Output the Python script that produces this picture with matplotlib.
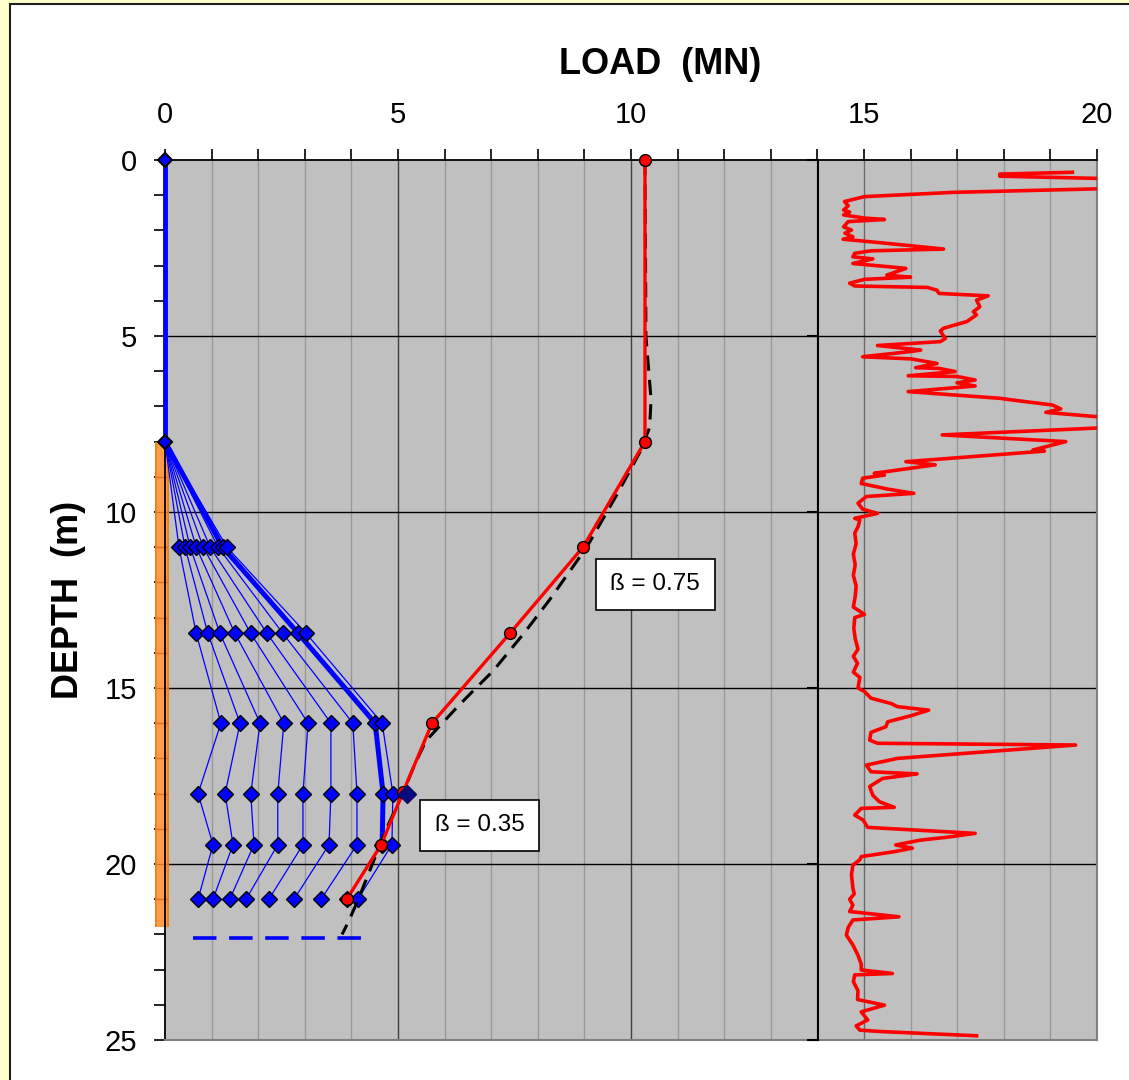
import matplotlib
matplotlib.use("Agg")
import matplotlib.pyplot as plt
from matplotlib.patches import Rectangle

plt.rcParams['font.family'] = ['Liberation Sans', 'DejaVu Sans']

# ---- data -------------------------------------------------------------
# strain-gauge depths (m); 8 m is top of embedded pile
gauge_depth = [8, 11, 13.45, 16, 18, 19.45, 21]

# load (MN) at each gauge depth for the successive load steps
load_11 = [0.30, 0.43, 0.54, 0.67, 0.82, 0.97, 1.14, 1.24, 1.33]
load_1345 = [0.67, 0.92, 1.18, 1.50, 1.84, 2.19, 2.53, 2.86, 3.03]
load_16 = [1.20, 1.61, 2.04, 2.55, 3.07, 3.56, 4.03, 4.51, 4.66]
load_18 = [0.71, 1.29, 1.84, 2.42, 2.96, 3.56, 4.12, 4.68, 4.89]
load_1945 = [1.03, 1.46, 1.91, 2.42, 2.96, 3.52, 4.12, 4.66, 4.87]
load_21 = [0.71, 1.03, 1.39, 1.74, 2.23, 2.77, 3.35, 3.90, 4.14]
thick_step = 7  # load step drawn heavy

# free length above embedment
free_depth = [0, 8]
free_load = [0, 0]

# extra measured point
extra_load = [5.19]
extra_depth = [18]

# red distribution (measured at max load)
red_depth = [0, 8, 11, 13.45, 16, 17.95, 19.45, 21]
red_load = [10.3, 10.3, 8.97, 7.40, 5.73, 5.11, 4.64, 3.90]

# fitted (effective stress) curve
fit_depth = [0, 5, 6.8, 7.6, 8.3, 9.5, 11, 12.5, 13.45, 14.5, 15.5, 16, 16.5,
             17.2, 18, 19, 20, 21, 21.6, 22.0]
fit_load = [10.3, 10.32, 10.43, 10.4, 10.19, 9.7, 9.05, 8.25, 7.7, 7.05, 6.3,
            5.95, 5.6, 5.35, 5.1, 4.75, 4.45, 4.15, 3.95, 3.8]

# pile toe marker
toe_depth = 22.1
toe_load = [0.6, 4.2]
pile_top, pile_toe = 8.0, 21.8

# CPT trace (plotted on the 14-20 strip)
cpt_depth = [0.35, 0.40, 0.46, 0.54, 0.80, 0.92, 1.04, 1.18, 1.30, 1.42, 1.48,
             1.56, 1.65, 1.69, 1.75, 1.90, 1.99, 2.08, 2.18, 2.25, 2.37, 2.53,
             2.58, 2.65, 2.75, 2.81, 2.94, 3.03, 3.08, 3.27, 3.33, 3.39, 3.50,
             3.58, 3.62, 3.70, 3.79, 3.86, 3.98, 4.17, 4.31, 4.40, 4.59, 4.78,
             4.86, 5.07, 5.16, 5.27, 5.40, 5.44, 5.59, 5.65, 5.78, 5.90, 5.92,
             6.01, 6.13, 6.15, 6.25, 6.33, 6.42, 6.58, 6.77, 6.82, 6.96, 7.07,
             7.17, 7.36, 7.58, 7.81, 8.00, 8.24, 8.27, 8.57, 8.66, 8.90, 8.95,
             9.04, 9.19, 9.35, 9.47, 9.56, 9.75, 9.92, 10.04, 10.18, 10.23,
             10.42, 10.6, 10.9, 11.2, 11.5, 11.8, 12.1, 12.4, 12.7, 12.91, 13.0,
             13.3, 13.6, 13.9, 14.1, 14.3, 14.55, 14.7, 15.0, 15.1, 15.29,
             15.44, 15.53, 15.63, 15.79, 15.96, 16.10, 16.26, 16.48, 16.57,
             16.62, 17.0, 17.19, 17.38, 17.44, 17.57, 17.80, 18.05, 18.23,
             18.39, 18.42, 18.61, 18.75, 18.96, 19.13, 19.24, 19.32, 19.46,
             19.55, 19.65, 19.79, 19.88, 20.03, 20.3, 20.69, 20.85, 21.0,
             21.17, 21.35, 21.50, 21.59, 21.8, 22.02, 22.3, 22.59, 22.85,
             23.01, 23.11, 23.15, 23.34, 23.6, 23.85, 24.01, 24.2, 24.43, 24.6,
             24.72, 24.76, 24.88]
cpt_value = [19.47, 17.91, 17.91, 20.6, 20.6, 16.9, 15.0, 14.57, 14.65, 14.55,
             14.68, 14.55, 15.0, 15.43, 14.65, 14.55, 14.72, 14.58, 14.75,
             14.54, 15.5, 16.70, 15.14, 14.79, 14.75, 15.18, 14.75, 15.5,
             15.89, 15.48, 15.99, 15.0, 14.68, 14.79, 16.35, 16.56, 16.60,
             17.66, 17.41, 17.48, 17.34, 17.41, 17.2, 16.70, 16.63, 16.74,
             16.63, 15.28, 16.21, 16.0, 14.96, 16.0, 16.56, 16.10, 16.60,
             16.95, 15.94, 16.99, 17.38, 16.99, 17.38, 15.94, 17.91, 18.19,
             19.04, 19.22, 18.90, 20.6, 20.6, 16.67, 19.33, 18.62, 18.87,
             15.89, 16.52, 15.21, 15.43, 14.96, 14.93, 15.5, 16.06, 15.04,
             14.86, 14.96, 15.28, 14.79, 14.90, 14.86, 14.79, 14.82, 14.76,
             14.80, 14.76, 14.82, 14.80, 14.76, 15.0, 14.79, 14.77, 14.80,
             14.86, 14.76, 14.85, 14.76, 14.9, 14.86, 15.0, 15.14, 15.57,
             15.71, 16.38, 15.99, 15.5, 15.46, 15.14, 15.11, 15.28, 19.54,
             15.71, 15.04, 15.14, 16.13, 15.39, 15.11, 15.18, 15.32, 15.64,
             14.93, 14.79, 14.97, 15.07, 17.38, 16.77, 16.21, 15.67, 16.03,
             15.64, 14.93, 14.90, 14.75, 14.72, 14.75, 14.78, 14.68, 14.75,
             14.68, 15.74, 14.75, 14.65, 14.61, 14.75, 14.86, 14.93, 14.93,
             15.60, 14.79, 14.76, 14.86, 14.85, 15.43, 14.93, 15.07, 14.82,
             14.9, 15.35, 17.41]

x_ticks = [0, 5, 10, 15, 20]
y_ticks = [0, 5, 10, 15, 20, 25]

# ---- figure -----------------------------------------------------------
W, H = 1129, 1080
fig = plt.figure(figsize=(W / 100, H / 100), dpi=100)
fig.patch.set_facecolor('#FFFFCC')
fig.patches.append(Rectangle((10 / W, -0.01), 1.0, (H - 4) / H + 0.01,
                             transform=fig.transFigure, facecolor='white',
                             edgecolor='#202020', lw=1.5, zorder=-5))

left, right, top, bot = 165 / W, 1097 / W, (H - 160) / H, (H - 1040) / H
ax = fig.add_axes([left, bot, right - left, top - bot])
ax.set_facecolor('#C0C0C0')
ax.set_xlim(0, 20)
ax.set_ylim(25, 0)

# grid
for x in range(1, 20):
    if x in (5, 10):
        c = '#404040'
    elif x == 15:
        c = '#6a6a6a'
    else:
        c = '#999999'
    ax.axvline(x, color=c, lw=1.0, zorder=0)
for y in (5, 10, 15, 20):
    ax.axhline(y, color='black', lw=1.0, zorder=0.5)

ax.xaxis.tick_top()
ax.set_xticks(x_ticks)
ax.set_xticks(range(0, 21), minor=True)
ax.set_yticks(y_ticks)
ax.set_yticks(range(0, 26), minor=True)
ax.tick_params(which='both', direction='out', length=8, width=1.2,
               labelsize=21)
ax.tick_params(axis='x', which='major', pad=14)
ax.tick_params(axis='y', which='major', pad=12)
for s in ('top', 'left'):
    ax.spines[s].set_color('black')
    ax.spines[s].set_linewidth(1.3)
for s in ('right', 'bottom'):
    ax.spines[s].set_color('#808080')
    ax.spines[s].set_linewidth(1.5)

fig.text(660 / W, 1 - 64 / H, 'LOAD  (MN)', ha='center', va='center',
         fontsize=26, fontweight='bold')
fig.text(68 / W, 1 - 600 / H, 'DEPTH  (m)', ha='center', va='center',
         rotation=90, fontsize=26, fontweight='bold')

# pile (embedded length), drawn just left of the axis
pile_x = -0.06
ax.plot([pile_x, pile_x], [pile_top, pile_toe], color='#F07A10', lw=10.0,
        solid_capstyle='butt', clip_on=False, zorder=2)
ax.plot([pile_x, pile_x], [pile_top, pile_toe], color='#FF9C4A', lw=7.5,
        solid_capstyle='butt', clip_on=False, zorder=2.1)
ax.plot([pile_x] * 13, [9 + i for i in range(13)], ls='none', marker='_',
        ms=9, mew=1.0, color='#E07020', clip_on=False, zorder=2.2)
ax.plot(free_load, free_depth, color='#0000FF', lw=3.5, clip_on=False,
        zorder=3)
ax.plot(free_load, free_depth, ls='none', marker='D', ms=7.5,
        mfc='#0000FF', mec='black', mew=1.5, clip_on=False, zorder=6)

# toe line
ax.plot(toe_load, [toe_depth, toe_depth], color='#0000FF', lw=2.6,
        ls=(0, (6.5, 3.5)), zorder=3)

# load-step distributions
rows = [load_11, load_1345, load_16, load_18, load_1945, load_21]
for i in range(len(load_11)):
    xs = [0] + [r[i] for r in rows]
    ax.plot(xs, gauge_depth, color='#0000FF', lw=0.9, zorder=3)
    if i == thick_step:
        ax.plot(xs[:-1], gauge_depth[:-1], color='#0000FF', lw=3.6,
                zorder=3.2)
    ax.plot(xs[1:], gauge_depth[1:], ls='none', marker='D', ms=8.5,
            mfc='#0000FF', mec='black', mew=1.0, zorder=4)

# fitted curve and measured max-load distribution
ax.plot(fit_load, fit_depth, color='black', lw=2.2, ls=(0, (5, 3)),
        zorder=4.5)
ax.plot(red_load, red_depth, color='#FF0000', lw=2.4, zorder=5)
ax.plot(red_load, red_depth, ls='none', marker='o', ms=8.5,
        mfc='#FF0000', mec='black', mew=1.0, zorder=5.5, clip_on=False)
ax.plot(extra_load, extra_depth, ls='none', marker='D', ms=9.5,
        mfc='#0A0A80', mec='#0A0A60', mew=1.0, zorder=6)

box = dict(boxstyle='square,pad=0.6', facecolor='white', edgecolor='black',
           lw=1.2)
ax.text(10.52, 12.05, 'ß = 0.75', fontsize=17.5, ha='center', va='center',
        bbox=box, zorder=7)
ax.text(6.75, 18.9, 'ß = 0.35', fontsize=17.5, ha='center', va='center',
        bbox=box, zorder=7)

# CPT strip
cl = 818 / W
ax2 = fig.add_axes([cl, bot, right - cl, top - bot])
ax2.patch.set_alpha(0)
ax2.set_xlim(14, 20)
ax2.set_ylim(25, 0)
ax2.set_xticks([])
ax2.set_yticks(y_ticks)
ax2.set_yticklabels([])
ax2.tick_params(axis='y', direction='out', length=8, width=1.5)
for s in ('top', 'right', 'bottom'):
    ax2.spines[s].set_visible(False)
ax2.spines['left'].set_color('black')
ax2.spines['left'].set_linewidth(1.5)
ax2.plot(cpt_value, cpt_depth, color='#FF0000', lw=2.6, zorder=5)

fig.savefig('out.png', dpi=100, facecolor=fig.get_facecolor())
